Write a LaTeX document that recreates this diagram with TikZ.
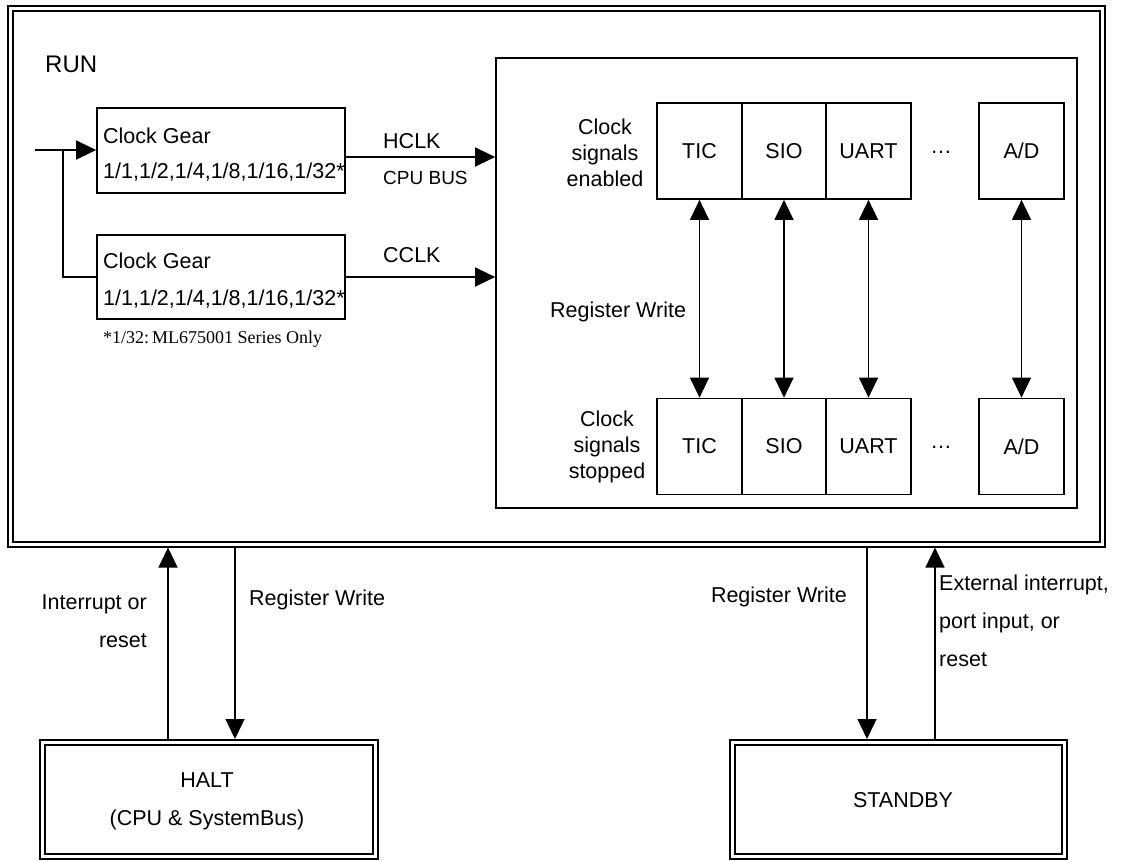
\documentclass[tikz,border=0pt]{standalone}
\usepackage{fontspec}
\setmainfont{Liberation Sans}
\newfontfamily\notefont{Liberation Serif}
\usetikzlibrary{arrows.meta}

\begin{document}
\begin{tikzpicture}[x=1pt, y=-1pt,
    txt/.style={font=\fontsize{21.5}{26}\selectfont, inner sep=0pt},
    wide/.style={font=\fontsize{21.5}{38}\selectfont, inner sep=0pt},
    frame/.style={draw, line width=2pt, double, double distance=3pt, inner sep=0pt, outer sep=3.5pt},
    gear/.style={draw, line width=1.7pt, minimum width=248pt, inner sep=0pt},
    cell/.style={draw, line width=1.7pt, minimum width=85pt, minimum height=96pt, inner sep=0pt, font=\fontsize{21.5}{26}\selectfont},
    arr/.style={line width=1.3pt, -{Triangle[length=20pt,width=19pt]}},
    dbl/.style={line width=1.3pt, {Triangle[length=20pt,width=19pt]}-{Triangle[length=20pt,width=19pt]}}]
    \useasboundingbox (0,0) rectangle (1131,860);

    % Estado RUN (marco doble)
    \node[frame, minimum width=1091.5pt, minimum height=535.5pt] (run) at (556.25,276.25) {};
    \node[inner sep=0pt, anchor=base west, font=\fontsize{24}{28}\selectfont] (runlbl) at (45,72) {RUN};

    % Clock gears
    \node[gear, minimum height=85pt] (gear1) at (221,150.5) {};
    \node[txt, anchor=base west] (g1top) at (103,143) {Clock Gear};
    \node[txt, anchor=base west] (g1bot) at (103,178) {1/1,1/2,1/4,1/8,1/16,1/32*};
    \node[gear, minimum height=84pt] (gear2) at (221,277) {};
    \node[txt, anchor=base west] (g2top) at (103,268) {Clock Gear};
    \node[txt, anchor=base west] (g2bot) at (103,305) {1/1,1/2,1/4,1/8,1/16,1/32*};
    \node[inner sep=0pt, anchor=base west, font=\notefont\fontsize{18}{22}\selectfont] (note) at (103,343) {*1/32:\,ML675001 Series Only};

    % Bloque de periféricos
    \node[draw, line width=1.7pt, minimum width=581pt, minimum height=450pt, inner sep=0pt] (inner) at (786.5,283) {};

    % Entrada de reloj
    \coordinate (clkin) at (35,150);
    \coordinate (split) at (63,150);
    \draw[arr] (clkin) -- (clkin -| gear1.west);
    \draw[line width=1.3pt] (split) |- (gear2.west);

    % HCLK y CCLK
    \coordinate (hc) at (345,157);
    \draw[arr] (hc) -- (hc -| inner.west);
    \node[txt, anchor=base west] (hclk) at (383,148) {HCLK};
    \node[inner sep=0pt, anchor=base west, font=\fontsize{19}{22}\selectfont] (cpubus) at (383,184) {CPU BUS};
    \draw[arr] (gear2.east) -- (gear2.east -| inner.west);
    \node[txt, anchor=base west] (cclk) at (383,262) {CCLK};

    % Relojes habilitados
    \node[txt, align=center, anchor=north] (enlbl) at (605,119) {Clock\\signals\\enabled};
    \node[cell] (tic1) at (699.5,151) {TIC};
    \node[cell] (sio1) at (784,151) {SIO};
    \node[cell] (uart1) at (868.5,151) {UART};
    \node[txt, anchor=base] (dots1) at (941,153) {…};
    \node[cell] (ad1) at (1021.5,151) {A/D};

    % Relojes detenidos
    \node[txt, align=center, anchor=north] (stlbl) at (607,411) {Clock\\signals\\stopped};
    \node[cell] (tic2) at (699.5,446.5) {TIC};
    \node[cell] (sio2) at (784,446.5) {SIO};
    \node[cell] (uart2) at (868.5,446.5) {UART};
    \node[txt, anchor=base] (dots2) at (941,448) {…};
    \node[cell] (ad2) at (1021.5,446.5) {A/D};

    % Escritura de registro
    \draw[dbl] (tic1.south) -- (tic2.north);
    \draw[dbl] (sio1.south) -- (sio2.north);
    \draw[dbl] (uart1.south) -- (uart2.north);
    \draw[dbl] (ad1.south) -- (ad2.north);
    \node[txt, anchor=base west] (regw) at (550,317) {Register Write};

    % Estados HALT y STANDBY
    \node[frame, minimum width=332.7pt, minimum height=114pt] (halt) at (209.2,799.5) {};
    \node[wide, align=center, anchor=north] (haltlbl) at (207,772) {HALT\\(CPU \& SystemBus)};
    \node[frame, minimum width=332pt, minimum height=114pt] (standby) at (898.5,799.5) {};
    \node[txt, anchor=base] (stbylbl) at (903,807) {STANDBY};

    % Transiciones
    \coordinate (xa) at (168,0);
    \coordinate (xb) at (235,0);
    \coordinate (xc) at (867,0);
    \coordinate (xd) at (935,0);
    \draw[arr] (halt.north -| xa) -- (run.south -| xa);
    \draw[arr] (run.south -| xb) -- (halt.north -| xb);
    \draw[arr] (run.south -| xc) -- (standby.north -| xc);
    \draw[arr] (standby.north -| xd) -- (run.south -| xd);
    \node[wide, align=right, anchor=north east] (intlbl) at (147,594) {Interrupt or\\reset};
    \node[txt, anchor=base west] (regw2) at (249,605) {Register Write};
    \node[txt, anchor=base east] (regw3) at (847,602) {Register Write};
    \node[wide, align=left, anchor=north west] (extlbl) at (939,575) {External interrupt,\\port input, or\\reset};
\end{tikzpicture}
\end{document}
